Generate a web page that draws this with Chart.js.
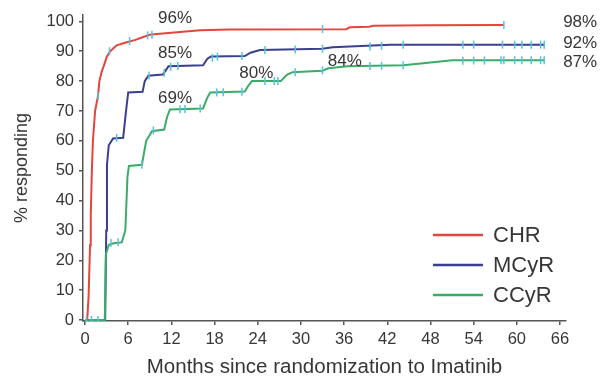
<!DOCTYPE html>
<html lang="en">
<head>
    <meta charset="UTF-8">
    <title>Cumulative response to Imatinib</title>
    <script src="https://cdn.jsdelivr.net/npm/chart.js"></script>
    <style>
        body {
            margin: 0;
            background: #ffffff;
        }
        .wrap {
            width: 606px;
            height: 380px;
        }
    </style>
</head>
<body>
    <div class="wrap"><canvas id="responseChart" width="606" height="380"></canvas></div>

    <script>
        // Months since randomization -> % responding
        const chrMonths = [0.3, 0.5, 0.7, 0.8, 0.95, 1.1, 1.4, 1.8, 2.0, 2.3, 2.6, 3.0, 3.5, 4.4, 5.8, 7.0, 8.0, 9.0, 10.0, 12.0, 16.0, 20.0, 36.3, 36.8, 39.5, 40.0, 47.5, 58.2];
        const chrPct = [0, 8, 25, 35, 50, 60, 70, 75, 80, 83, 85, 88, 90, 92, 93, 93.8, 94.7, 95.5, 95.8, 96.2, 97.0, 97.3, 97.4, 98.0, 98.2, 98.5, 98.7, 98.8];

        const mcyrMonths = [0, 2.8, 2.95, 3.05, 3.3, 3.9, 5.3, 5.7, 6.0, 8.0, 8.3, 8.8, 10.8, 11.2, 11.6, 16.4, 17.0, 17.5, 22.2, 23.0, 24.3, 33.0, 34.4, 36.0, 42.4, 63.9];
        const mcyrPct = [0, 0, 30, 52, 58.5, 60.8, 61, 70, 76.2, 76.4, 80, 81.8, 82.2, 83.5, 85, 85.3, 87.5, 88.2, 88.4, 89.5, 90.4, 90.8, 91.3, 91.5, 92.2, 92.2];

        const ccyrMonths = [0, 2.75, 2.9, 3.3, 4.0, 5.1, 5.6, 5.9, 6.1, 7.9, 8.5, 9.3, 11.0, 11.4, 11.8, 16.4, 17.0, 17.4, 22.2, 22.7, 23.2, 26.0, 27.2, 28.0, 28.8, 33.0, 33.8, 36.5, 44.2, 47.0, 51.0, 63.9];
        const ccyrPct = [0, 0, 22, 25.2, 25.7, 26.0, 30, 48, 51.6, 52, 60, 63.2, 63.8, 68, 70.5, 70.8, 74.5, 76.2, 76.5, 78.5, 80, 80, 80, 82, 83, 83.5, 84.3, 85.0, 85.3, 86, 87, 87];

        // Censored patients (the little vertical ticks)
        const chrCensMonths = [1.8, 3.4, 6.2, 8.7, 9.3, 33.0, 58.2];
        const chrCensPct = [75, 90, 93.4, 95.3, 95.5, 97.4, 98.8];

        const mcyrCensMonths = [4.4, 8.9, 11.0, 11.9, 12.9, 17.7, 18.4, 21.8, 25.0, 29.2, 33.0, 39.6, 41.2, 44.2, 52.5, 54.0, 58.0, 59.7, 60.7, 62.0, 63.3, 63.8];
        const mcyrCensPct = [61, 81.9, 82.8, 84.8, 85.1, 87.8, 88.2, 88.4, 90.4, 90.6, 90.8, 91.6, 91.8, 92.2, 92.2, 92.2, 92.2, 92.2, 92.2, 92.2, 92.2, 92.2];

        const ccyrCensMonths = [0.2, 0.9, 1.8, 3.6, 4.6, 7.9, 9.5, 13.2, 13.9, 16.0, 18.3, 19.2, 21.8, 25.0, 26.3, 26.8, 29.2, 33.0, 39.6, 41.2, 44.2, 52.5, 54.0, 55.5, 57.8, 58.2, 59.7, 60.7, 62.0, 63.3, 63.8];
        const ccyrCensPct = [0, 0, 0, 25.8, 26, 52, 63.5, 70.6, 70.7, 70.8, 76.2, 76.3, 76.4, 80, 80, 80, 83, 83.6, 85.1, 85.1, 85.3, 86.8, 86.9, 86.9, 87, 87, 87, 87, 87, 87, 87];

        const seriesNames = ['CHR', 'MCyR', 'CCyR'];
        const seriesColors = ['#e4453d', '#3b3f8f', '#3bac67'];
        const censorColor = '#55c3dd';

        const xTicks = [0, 6, 12, 18, 24, 30, 36, 42, 48, 54, 60, 66];
        const yTicks = [0, 10, 20, 30, 40, 50, 60, 70, 80, 90, 100];

        // Percent labels on the plot: [text, month, percent]
        const notes = [
            ['96%', 12.5, 100.9],
            ['85%', 12.5, 89.2],
            ['69%', 12.5, 74.2],
            ['80%', 23.8, 82.5],
            ['84%', 36.1, 86.5],
            ['98%', 68.8, 99.6],
            ['92%', 68.8, 92.5],
            ['87%', 68.8, 86.2]
        ];

        const FONT = '"Liberation Sans", Arial, sans-serif';
        const textColor = '#363636';
        const axisColor = '#555555';
        const toPoints = (xs, ys) => xs.map((x, i) => ({ x: x, y: ys[i] }));

        const curve = (label, xs, ys, color) => ({
            label: label,
            data: toPoints(xs, ys),
            borderColor: color,
            borderWidth: 2,
            pointRadius: 0,
            tension: 0,
            fill: false,
            order: 2
        });

        const censor = (xs, ys) => ({
            label: 'censored',
            data: toPoints(xs, ys),
            showLine: false,
            pointStyle: 'line',
            rotation: 90,
            pointRadius: 4,
            pointBorderWidth: 1.5,
            pointBorderColor: censorColor,
            borderColor: censorColor,
            order: 1
        });

        // Legend sits inside the plot, lower right
        const insideLegend = {
            id: 'insideLegend',
            afterDatasetsDraw(chart) {
                const { ctx, chartArea } = chart;
                ctx.save();
                ctx.font = '22px ' + FONT;
                ctx.textBaseline = 'middle';
                ctx.textAlign = 'left';
                seriesNames.forEach((name, i) => {
                    const y = chartArea.bottom - 86 + i * 30;
                    ctx.strokeStyle = seriesColors[i];
                    ctx.lineWidth = 2.5;
                    ctx.beginPath();
                    ctx.moveTo(chartArea.right - 133, y);
                    ctx.lineTo(chartArea.right - 83, y);
                    ctx.stroke();
                    ctx.fillStyle = textColor;
                    ctx.fillText(name, chartArea.right - 73, y + 1);
                });
                ctx.restore();
            }
        };

        const percentNotes = {
            id: 'percentNotes',
            afterDraw(chart) {
                const { ctx, scales } = chart;
                ctx.save();
                ctx.font = '17px ' + FONT;
                ctx.fillStyle = textColor;
                ctx.textAlign = 'center';
                ctx.textBaseline = 'middle';
                notes.forEach(n => {
                    ctx.fillText(n[0], scales.x.getPixelForValue(n[1]), scales.y.getPixelForValue(n[2]));
                });
                ctx.restore();
            }
        };

        new Chart(document.getElementById('responseChart'), {
            type: 'line',
            data: {
                datasets: [
                    censor(chrCensMonths, chrCensPct),
                    censor(mcyrCensMonths, mcyrCensPct),
                    censor(ccyrCensMonths, ccyrCensPct),
                    curve(seriesNames[0], chrMonths, chrPct, seriesColors[0]),
                    curve(seriesNames[2], ccyrMonths, ccyrPct, seriesColors[2]),
                    curve(seriesNames[1], mcyrMonths, mcyrPct, seriesColors[1])
                ]
            },
            options: {
                responsive: false,
                animation: false,
                layout: {
                    padding: { top: 13, right: 40, left: 0, bottom: 0 }
                },
                plugins: {
                    legend: { display: false },
                    tooltip: { enabled: false }
                },
                scales: {
                    x: {
                        type: 'linear',
                        min: -0.28,
                        max: 66.83,
                        afterBuildTicks: s => { s.ticks = xTicks.map(v => ({ value: v })); },
                        afterFit: s => { s.height = 59; },
                        grid: {
                            drawOnChartArea: false,
                            tickLength: 4,
                            color: axisColor,
                            lineWidth: 1.5
                        },
                        border: { color: axisColor, width: 1.5 },
                        ticks: {
                            font: { size: 16.5, family: FONT },
                            color: textColor,
                            padding: 5,
                            maxRotation: 0,
                            autoSkip: false
                        },
                        title: {
                            display: true,
                            text: 'Months since randomization to Imatinib',
                            font: { size: 20.5, family: FONT },
                            color: textColor,
                            padding: { top: 0, bottom: 0 }
                        }
                    },
                    y: {
                        min: -0.33,
                        max: 102.17,
                        afterBuildTicks: s => { s.ticks = yTicks.map(v => ({ value: v })); },
                        afterFit: s => { s.width = 83; },
                        grid: {
                            drawOnChartArea: false,
                            tickLength: 4,
                            color: axisColor,
                            lineWidth: 1.5
                        },
                        border: { color: axisColor, width: 1.5 },
                        ticks: {
                            font: { size: 16.5, family: FONT },
                            color: textColor,
                            padding: 5
                        },
                        title: {
                            display: true,
                            text: '% responding',
                            font: { size: 18, family: FONT },
                            color: textColor,
                            padding: { top: 11, bottom: 0 }
                        }
                    }
                }
            },
            plugins: [insideLegend, percentNotes]
        });
    </script>
</body>
</html>
